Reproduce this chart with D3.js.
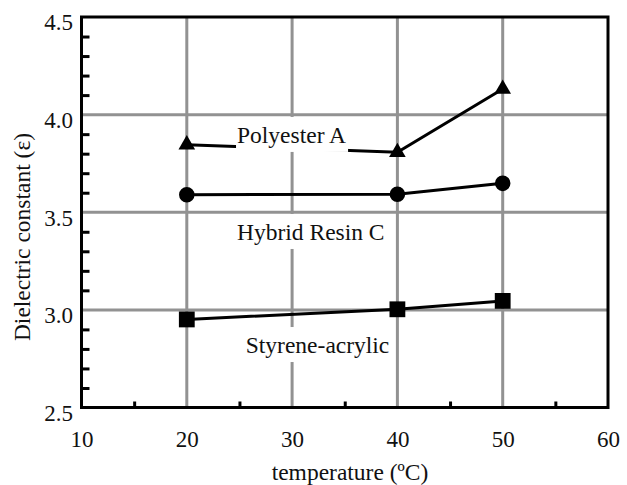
<!DOCTYPE html>
<html>
<head>
<meta charset="utf-8">
<script src="https://cdn.jsdelivr.net/npm/d3@7"></script>
<style>
  html, body { margin: 0; padding: 0; background: #fff; }
  svg { display: block; }
  text { font-family: "Liberation Serif", "Times New Roman", serif; fill: #111; }
</style>
</head>
<body>
<svg id="chart" width="627" height="485"></svg>
<script>
// ---- data ----
const temperatures = [20, 40, 50];
const polyesterA = [3.846, 3.807, 4.131];
const hybridResinC = [3.59, 3.592, 3.648];
const styreneAcrylic = [2.951, 3.003, 3.046];
const seriesNames = ["Polyester A", "Hybrid Resin C", "Styrene-acrylic"];
const xTickValues = [10, 20, 30, 40, 50, 60];
const yTickValues = [2.5, 3.0, 3.5, 4.0, 4.5];
const xGridValues = [20, 30, 40, 50];
const yGridValues = [3.0, 3.5, 4.0];
const xMinorTicks = [15, 25, 35, 45, 55];
const yMinorTicks = [2.6, 2.7, 2.8, 2.9, 3.1, 3.2, 3.3, 3.4, 3.6, 3.7, 3.8, 3.9, 4.1, 4.2, 4.3, 4.4];
// label anchor points in data units (start x, baseline y)
const labelAnchors = [[24.77, 3.855], [24.77, 3.358], [25.6, 2.779]];

const svg = d3.select("#chart");
const L = 81.5, R = 608, T = 17, B = 407.5;
const x = d3.scaleLinear().domain([10, 60]).range([L, R]);
const y = d3.scaleLinear().domain([2.5, 4.5]).range([B, T]);
const gridColor = "#929292";
const fontSize = 23.5;

// gridlines
svg.append("g").selectAll("line").data(xGridValues).join("line")
  .attr("x1", d => x(d)).attr("x2", d => x(d)).attr("y1", T).attr("y2", B)
  .attr("stroke", gridColor).attr("stroke-width", 3);
svg.append("g").selectAll("line").data(yGridValues).join("line")
  .attr("y1", d => y(d)).attr("y2", d => y(d)).attr("x1", L).attr("x2", R)
  .attr("stroke", gridColor).attr("stroke-width", 3);

// series
const series = [
  { name: seriesNames[0], values: polyesterA, symbol: d3.symbolTriangle, size: 120 },
  { name: seriesNames[1], values: hybridResinC, symbol: d3.symbolCircle, size: 190 },
  { name: seriesNames[2], values: styreneAcrylic, symbol: d3.symbolSquare, size: 250 }
];
const line = d3.line().x(d => x(d[0])).y(d => y(d[1]));
series.forEach(s => {
  const pts = temperatures.map((t, i) => [t, s.values[i]]);
  svg.append("path").datum(pts).attr("d", line)
    .attr("fill", "none").attr("stroke", "#000").attr("stroke-width", 3);
});

// labels with white background
series.forEach((s, i) => {
  const g = svg.append("g");
  const bg = g.append("rect").attr("fill", "#fff");
  const t = g.append("text")
    .attr("x", x(labelAnchors[i][0])).attr("y", y(labelAnchors[i][1]))
    .attr("font-size", fontSize).text(s.name);
  const bb = t.node().getBBox();
  const base = y(labelAnchors[i][1]);
  bg.attr("x", bb.x - 1).attr("width", bb.width + 3)
    .attr("y", base - 26).attr("height", 35);
});

// markers
series.forEach(s => {
  svg.append("g").selectAll("path").data(temperatures.map((t, i) => [t, s.values[i]])).join("path")
    .attr("transform", d => `translate(${x(d[0])},${y(d[1])})`)
    .attr("d", d3.symbol().type(s.symbol).size(s.size))
    .attr("fill", "#000");
});

// minor ticks via axes
const yMinor = svg.append("g").attr("transform", `translate(${L},0)`)
  .call(d3.axisLeft(y).tickValues(yMinorTicks).tickSize(-8).tickFormat(""));
yMinor.select(".domain").remove();
yMinor.selectAll("line").attr("stroke", "#000").attr("stroke-width", 3);

const xMinor = svg.append("g").attr("transform", `translate(0,${B})`)
  .call(d3.axisBottom(x).tickValues(xMinorTicks).tickSize(-6).tickFormat(""));
xMinor.select(".domain").remove();
xMinor.selectAll("line").attr("stroke", "#000").attr("stroke-width", 3);

// frame
svg.append("rect").attr("x", L).attr("y", T).attr("width", R - L).attr("height", B - T)
  .attr("fill", "none").attr("stroke", "#000").attr("stroke-width", 3);

// tick labels
const yAx = svg.append("g").attr("transform", `translate(${L},0)`)
  .call(d3.axisLeft(y).tickValues(yTickValues).tickSize(0).tickPadding(8.5).tickFormat(d3.format(".1f")));
yAx.select(".domain").remove();
yAx.selectAll("text").attr("font-size", 23).attr("font-family", "Liberation Serif")
  .attr("dy", "0.56em").attr("fill", "#111");

const xAx = svg.append("g").attr("transform", `translate(0,${B})`)
  .call(d3.axisBottom(x).tickValues(xTickValues).tickSize(0).tickFormat(d3.format("d")));
xAx.select(".domain").remove();
xAx.selectAll("text").attr("font-size", 23).attr("font-family", "Liberation Serif")
  .attr("y", 39.5).attr("dy", "0").attr("fill", "#111");

// axis titles
svg.append("text").attr("x", 350).attr("y", 480).attr("text-anchor", "middle")
  .attr("font-size", fontSize).text("temperature (ºC)");
svg.append("text").attr("transform", "translate(30,237) rotate(-90)").attr("text-anchor", "middle")
  .attr("font-size", fontSize).text("Dielectric constant (ε)");
</script>
</body>
</html>
